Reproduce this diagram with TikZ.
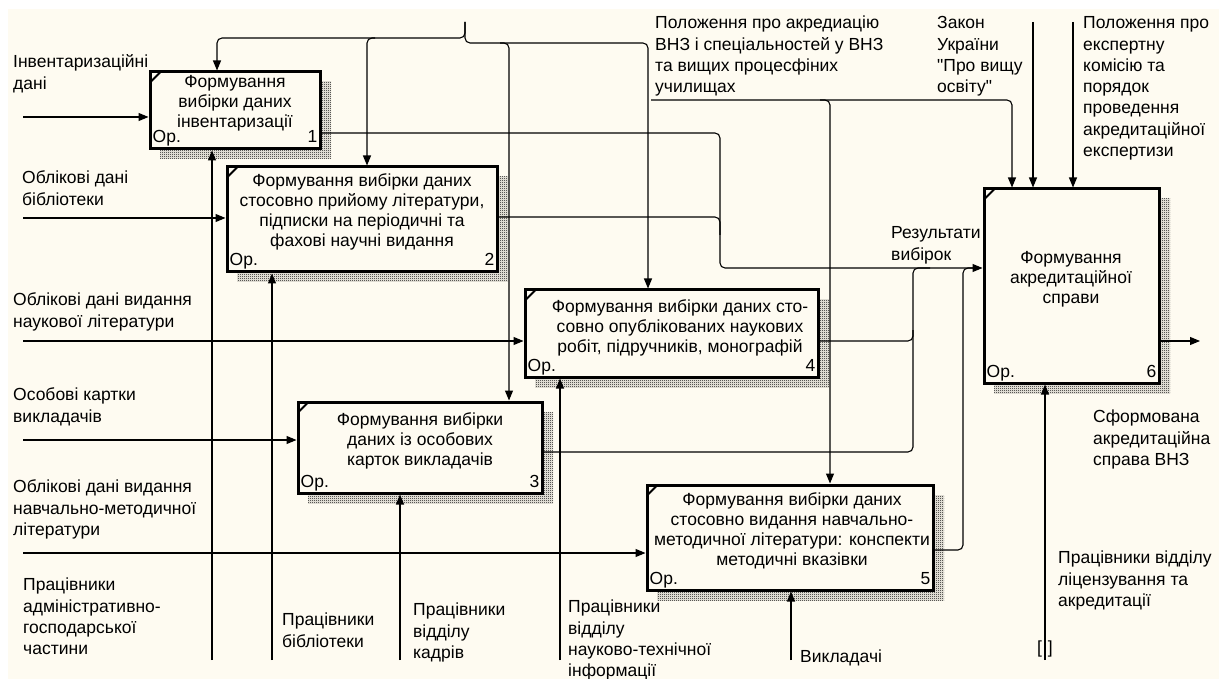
\documentclass[tikz,border=0pt]{standalone}
\usepackage{fontspec}
\setmainfont{Liberation Sans}
\newfontfamily\idfplain{Liberation Sans}
\usetikzlibrary{arrows.meta,patterns}
\definecolor{cream}{RGB}{254,251,241}
\pgfdeclarepatternformonly{idefchecker}{\pgfqpoint{0pt}{0pt}}{\pgfqpoint{2pt}{2pt}}{\pgfqpoint{2pt}{2pt}}{%
  \pgfpathrectangle{\pgfqpoint{0pt}{0pt}}{\pgfqpoint{1pt}{1pt}}%
  \pgfpathrectangle{\pgfqpoint{1pt}{1pt}}{\pgfqpoint{1pt}{1pt}}%
  \pgfusepath{fill}}
\newcommand\idflblfont{\fontsize{17.5}{21.3}\selectfont}
\newcommand\idfboxfont{\fontsize{17.5}{20}\selectfont}
\newcommand\idfq{{\idfplain"}}
\tikzset{
  arr/.style={-{Triangle[length=10pt,width=8pt]}},
  conn/.style={line width=1.1pt, rounded corners=5pt},
  idefbox/.style={draw, line width=3pt, fill=cream, inner sep=0pt},
  shadowfill/.style={pattern=idefchecker, pattern color=black},
  lbl/.style={anchor=north west, align=left, inner sep=0pt, font=\idflblfont},
  btxt/.style={anchor=north, align=center, inner sep=0pt, font=\idfboxfont},
  boxmark/.style={inner sep=0pt, font=\idfboxfont},
}
% name, left, top, right, bottom, number
\newcommand\idefb[6]{%
  \fill[shadowfill] (#2+10,#3+10) rectangle (#4+11,#5+10);
  \node[idefbox, minimum width={(#4-#2)*1pt}, minimum height={(#5-#3)*1pt}] (#1) at ({(#2+#4)/2},{(#3+#5)/2}) {};
  \draw[line width=2pt] ([shift={(1.5pt,-12pt)}]#1.north west) -- ([shift={(12pt,-1.5pt)}]#1.north west);
  \node[boxmark, anchor=base west] (#1op) at ([shift={(4pt,7.5pt)}]#1.south west) {Ор.};
  \node[boxmark, anchor=base east] (#1num) at ([shift={(-4pt,7.5pt)}]#1.south east) {#6};
}
\begin{document}
\begin{tikzpicture}[x=1pt,y=-1pt]
\useasboundingbox (0,0) rectangle (1219,679);
\fill[white] (0,0) rectangle (1219,679);
\fill[cream] (8,9) rectangle (1219,679);

% boxes
\idefb{b1}{150}{72}{320}{149}{1}
\idefb{b2}{227}{167}{497}{272}{2}
\idefb{b4}{525}{290}{818}{377}{4}
\idefb{b3}{298}{402}{542}{493}{3}
\idefb{b5}{647}{485}{933}{590}{5}
\idefb{b6}{984}{189}{1159}{383}{6}

% box texts
\node[btxt] (b1t) at (235,73.5) {\strut Формування\\вибірки даних\\інвентаризації};
\node[btxt] (b2t) at (362,172.5) {\strut Формування вибірки даних\\стосовно прийому літератури,\\підписки на періодичні та\\фахові научні видання};
\node[btxt] (b4t) at (680,298.5) {\strut Формування вибірки даних сто-\\совно опублікованих наукових\\робіт, підручників, монографій};
\node[btxt] (b3t) at (420,411.5) {\strut Формування вибірки\\даних із особових\\карток викладачів};
\node[btxt] (b5t) at (792,491.5) {\strut Формування вибірки даних\\стосовно видання навчально-\\методичної літератури: конспекти\\методичні вказівки};
\node[btxt] (b6t) at (1071,249.5) {\strut Формування\\акредитаційної\\справи};

% free ends
\coordinate (i1) at (23,117);
\coordinate (i2) at (23,218);
\coordinate (i3) at (23,341);
\coordinate (i4) at (23,440);
\coordinate (i5) at (23,553);
\coordinate (m1) at (212,660);
\coordinate (m2) at (272,660);
\coordinate (m3) at (400,660);
\coordinate (m4) at (560,660);
\coordinate (m5) at (791,660);
\coordinate (m6) at (1045,660);
\coordinate (c0) at (465,22);
\coordinate (c1) at (651,100);
\coordinate (c2) at (1033,22);
\coordinate (c3) at (1073,22);
\coordinate (out) at (1200,341);

% inputs
\draw[conn,arr] (i1) -- (i1 -| b1.west);
\draw[conn,arr] (i2) -- (i2 -| b2.west);
\draw[conn,arr] (i3) -- (i3 -| b4.west);
\draw[conn,arr] (i4) -- (i4 -| b3.west);
\draw[conn,arr] (i5) -- (i5 -| b5.west);

% mechanisms
\draw[conn,arr] (m1) -- (m1 |- b1.south);
\draw[conn,arr] (m2) -- (m2 |- b2.south);
\draw[conn,arr] (m3) -- (m3 |- b3.south);
\draw[conn,arr] (m4) -- (m4 |- b4.south);
\draw[conn,arr] (m5) -- (m5 |- b5.south);
\draw[conn,arr] (m6) -- (m6 |- b6.south);

% controls
\draw[conn,arr] (c0) -- (465,38) -- (217,38) -- (217,0 |- b1.north);
\draw[conn,arr] (c0) -- (465,43) -- (648,43) -- (648,0 |- b4.north);
\draw[conn,arr] (375,38) -- (367,38) -- (367,0 |- b2.north);
\draw[conn,arr] (500,43) -- (509,43) -- (509,0 |- b3.north);
\draw[conn,arr] (c1) -- (1012,100) -- (1012,0 |- b6.north);
\draw[conn,arr] (820,100) -- (830,100) -- (830,0 |- b5.north);
\draw[conn,arr] (c2) -- (c2 |- b6.north);
\draw[conn,arr] (c3) -- (c3 |- b6.north);

% outputs
\draw[conn,arr] (b1.east |- 0,133) -- (720,133) -- (720,268) -- (b6.west |- 0,268);
\draw[conn] (b2.east |- 0,217) -- (720,217) -- (720,235);
\draw[conn] (b4.east |- 0,341) -- (913,341) -- (913,268) -- (930,268);
\draw[conn] (b3.east |- 0,452) -- (913,452) -- (913,330);
\draw[conn] (b5.east |- 0,550) -- (963,550) -- (963,268) -- (975,268);
\draw[conn,arr] (b6.east |- out) -- (out);

% tunnel
\node[inner sep=0pt, font=\idflblfont] (tun) at (1045,649) {[\hspace{6pt}]};

% labels
\node[lbl] (l1) at (13,52.6) {\strut Інвентаризаційні\\дані};
\node[lbl] (l2) at (22,168.6) {\strut Облікові дані\\бібліотеки};
\node[lbl] (l3) at (13,290.6) {\strut Облікові дані видання\\наукової літератури};
\node[lbl] (l4) at (13,385.6) {\strut Особові картки\\викладачів};
\node[lbl] (l5) at (13,477.6) {\strut Облікові дані видання\\навчально-методичної\\літератури};
\node[lbl] (l6) at (23,575.6) {\strut Працівники\\адміністративно-\\господарської\\частини};
\node[lbl] (l7) at (282,610.6) {\strut Працівники\\бібліотеки};
\node[lbl] (l8) at (413,600.6) {\strut Працівники\\відділу\\кадрів};
\node[lbl] (l9) at (568,597.6) {\strut Працівники\\відділу\\науково-технічної\\інформації};
\node[lbl] (l10) at (800,647.6) {\strut Викладачі};
\node[lbl] (l11) at (1058,548.6) {\strut Працівники відділу\\ліцензування та\\акредитації};
\node[lbl] (l12) at (1093,407.6) {\strut Сформована\\акредитаційна\\справа ВНЗ};
\node[lbl] (l13) at (891,223.6) {\strut Результати\\вибірок};
\node[lbl] (l14) at (655,13.6) {\strut Положення про акредиацію\\ВНЗ і спеціальностей у ВНЗ\\та вищих процесфіних\\училищах};
\node[lbl] (l15) at (937,13.6) {\strut Закон\\України\\\idfq Про вищу\\освіту\idfq};
\node[lbl] (l16) at (1083,13.6) {\strut Положення про\\експертну\\комісію та\\порядок\\проведення\\акредитаційної\\експертизи};
\end{tikzpicture}
\end{document}
